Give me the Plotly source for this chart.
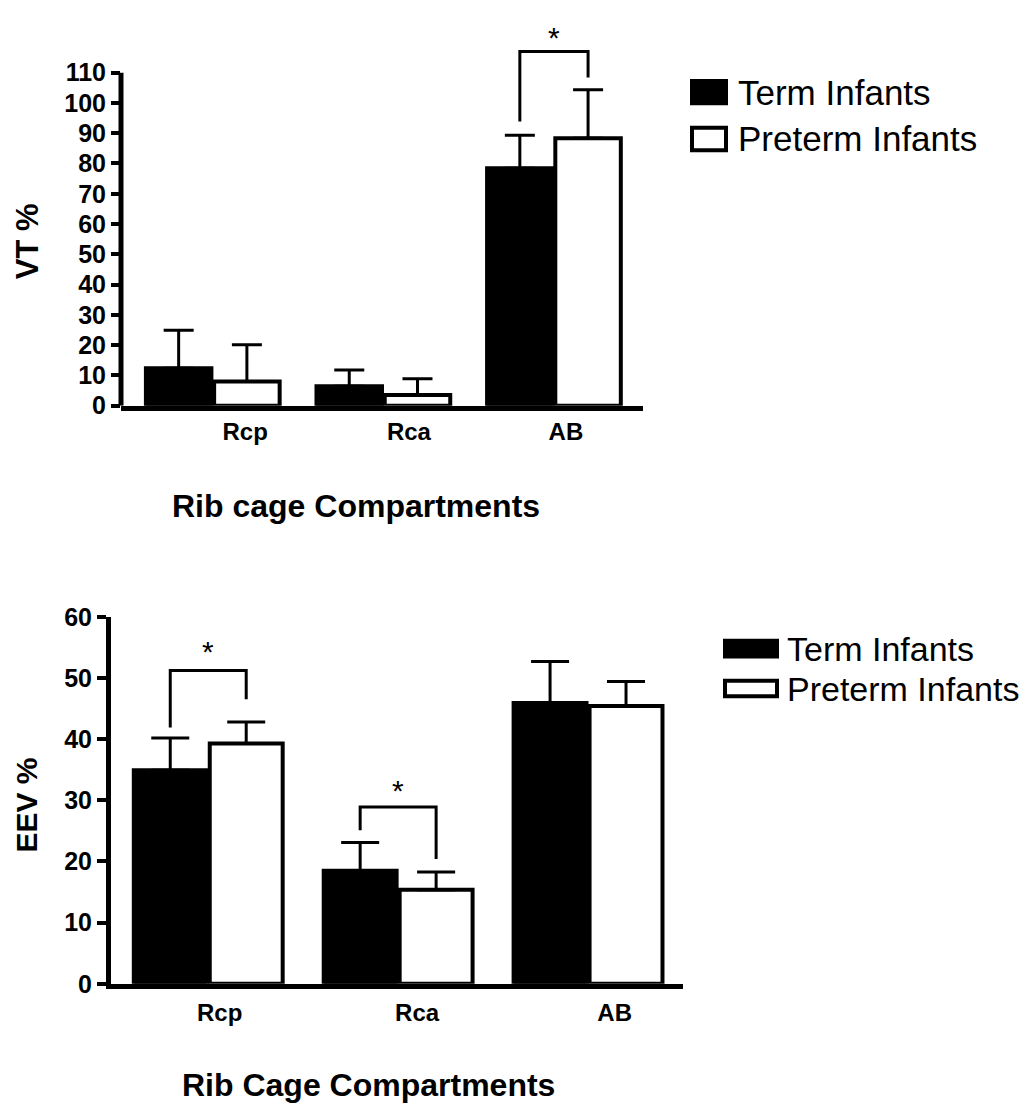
import plotly.graph_objects as go

# Browser window size; the page body has an 8px default margin, so the
# figure is made 16px smaller and all pixel positions are shifted by 8px.
WIN_W, WIN_H = 1031, 1115
M = 8
W, H = WIN_W - 2 * M, WIN_H - 2 * M

categories = ["Rcp", "Rca", "AB"]
positions = [0, 1, 2]

# Top panel: VT %
vt_term = [12.4, 6.4, 78.4]
vt_term_err = [12.5, 5.4, 10.9]
vt_pre = [8.0, 3.5, 88.3]
vt_pre_err = [12.1, 5.4, 16.1]
vt_ticks = list(range(0, 111, 10))
vt_label_pos = [0.19, 1.15, 2.07]
# significance bracket (group index, left-bottom, top, right-bottom)
vt_brackets = [(2, 93.9, 117.0, 108.4)]
vt_star_y = [121.5]

# Bottom panel: EEV %
eev_term = [34.9, 18.5, 45.9]
eev_term_err = [5.3, 4.6, 6.8]
eev_pre = [39.3, 15.4, 45.4]
eev_pre_err = [3.5, 2.9, 4.0]
eev_ticks = list(range(0, 61, 10))
eev_label_pos = [0.06, 1.1, 2.14]
eev_brackets = [(0, 41.9, 51.2, 46.5), (1, 25.1, 28.9, 20.4)]
eev_star_y = [54.3, 31.6]

FONT = "Liberation Sans, Arial, sans-serif"
half = 0.2  # bar-centre offset within group


def px(x):
    return (x - M) / W


def py(y):
    return 1 - (y - M) / H


fig = go.Figure()


def add_panel(xa, ya, term, term_err, pre, pre_err, cap):
    fig.add_trace(go.Bar(
        x=positions, y=term, name="Term Infants", xaxis=xa, yaxis=ya,
        marker=dict(color="black", line=dict(color="black", width=4)),
        error_y=dict(type="data", array=term_err, arrayminus=[0] * 3, symmetric=False,
                     color="black", thickness=3, width=cap),
        showlegend=False, offsetgroup="a"))
    fig.add_trace(go.Bar(
        x=positions, y=pre, name="Preterm Infants", xaxis=xa, yaxis=ya,
        marker=dict(color="white", line=dict(color="black", width=4)),
        error_y=dict(type="data", array=pre_err, arrayminus=[0] * 3, symmetric=False,
                     color="black", thickness=3, width=cap),
        showlegend=False, offsetgroup="b"))


add_panel("x", "y", vt_term, vt_term_err, vt_pre, vt_pre_err, 15)
add_panel("x2", "y2", eev_term, eev_term_err, eev_pre, eev_pre_err, 19)


def add_brackets(xa, ya, brackets, stars):
    for (g, lb, top, rb), sy in zip(brackets, stars):
        fig.add_trace(go.Scatter(
            x=[g - half, g - half, g + half, g + half], y=[lb, top, top, rb],
            mode="lines", line=dict(color="black", width=3), xaxis=xa, yaxis=ya,
            showlegend=False, hoverinfo="skip"))
        fig.add_annotation(x=g, y=sy, xref=xa, yref=ya, text="*", showarrow=False,
                           xanchor="center", yanchor="middle",
                           font=dict(family=FONT, size=30, color="black"))


add_brackets("x", "y", vt_brackets, vt_star_y)
add_brackets("x2", "y2", eev_brackets, eev_star_y)

axis_common = dict(showgrid=False, zeroline=False, color="black")
tick_font = dict(family=FONT, size=25, color="black", weight="bold")

fig.update_layout(
    width=W, height=H, margin=dict(l=0, r=0, t=0, b=0),
    paper_bgcolor="white", plot_bgcolor="white",
    barmode="group", bargap=0.2, bargroupgap=0.04,
    showlegend=False,
    xaxis=dict(domain=[px(121), px(643)], range=[-0.538, 2.522], anchor="y",
               tickvals=vt_label_pos, ticktext=categories, ticks="", ticklen=0,
               showline=True, linewidth=5, linecolor="black",
               tickfont=dict(family=FONT, size=24, color="black", weight="bold"),
               ticklabelstandoff=1, **axis_common),
    yaxis=dict(domain=[py(401.7), py(10.3)], range=[0, 126], anchor="x",
               tickvals=vt_ticks, ticks="outside", ticklen=9, tickwidth=4, tickcolor="black",
               showline=False, tickfont=tick_font, **axis_common),
    xaxis2=dict(domain=[px(111), px(683)], range=[-0.512, 2.5], anchor="y2",
                tickvals=eev_label_pos, ticktext=categories, ticks="", ticklen=0,
                showline=True, linewidth=5, linecolor="black",
                tickfont=dict(family=FONT, size=24, color="black", weight="bold"),
                ticklabelstandoff=3, **axis_common),
    yaxis2=dict(domain=[py(995), py(618.3)], range=[0, 60], anchor="x2",
                tickvals=eev_ticks, ticks="outside", ticklen=9, tickwidth=4, tickcolor="black",
                showline=True, linewidth=5, linecolor="black",
                tickfont=tick_font, **axis_common),
)

# top y-axis line only up to the last tick (110)
fig.add_shape(type="line", xref="x domain", yref="y", x0=0, x1=0, y0=0, y1=vt_ticks[-1],
              line=dict(color="black", width=5))

title_font = dict(family=FONT, size=31, color="black", weight="bold")


def text_at(x, y, text, font, angle=0, xanchor="center"):
    fig.add_annotation(x=px(x), y=py(y), xref="paper", yref="paper", text=text,
                       textangle=angle, xanchor=xanchor, yanchor="middle",
                       showarrow=False, font=font)


# axis titles
text_at(27, 233, "VT %", title_font, angle=-90)
text_at(27, 812, "EEV %", dict(title_font, size=30), angle=-90)
text_at(356, 505, "Rib cage Compartments", dict(title_font, size=32))
text_at(368, 1099, "Rib Cage Compartments", dict(title_font, size=32))


# legends (drawn manually to get large swatches)
def legend(x0, x1, rows, box_h, text_x, size):
    for (yc, label, fill) in rows:
        fig.add_shape(type="rect", xref="paper", yref="paper",
                      x0=px(x0), x1=px(x1), y0=py(yc + box_h / 2), y1=py(yc - box_h / 2),
                      fillcolor=fill, line=dict(color="black", width=4))
        text_at(text_x, yc, label, dict(family=FONT, size=size, color="black"), xanchor="left")


legend(692, 726, [(80, "Term Infants", "black"), (128, "Preterm Infants", "white")], 23, 736, 35)
legend(725, 777, [(651, "Term Infants", "black"), (692, "Preterm Infants", "white")], 16, 785, 34)

fig.write_html("out.html")
